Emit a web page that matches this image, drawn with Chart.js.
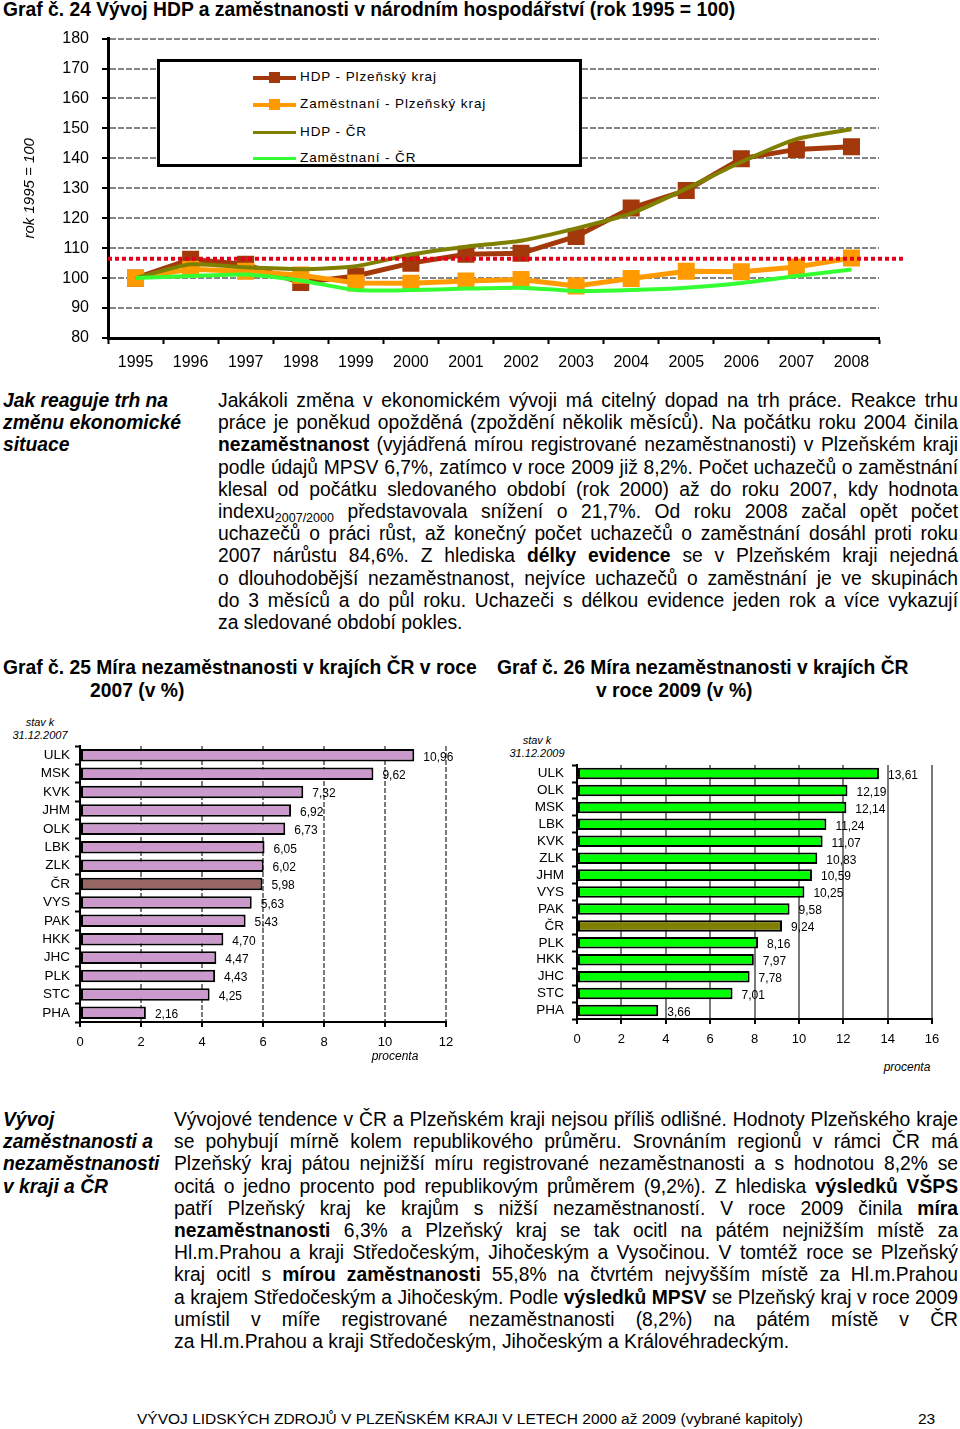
<!DOCTYPE html>
<html lang="cs">
<head>
<meta charset="utf-8">
<title>Vývoj HDP a zaměstnanosti</title>
<script src="https://cdn.jsdelivr.net/npm/chart.js@4.4.1/dist/chart.umd.min.js"></script>
<style>
body { margin:0; width:960px; height:1429px; position:relative; background:#fff; color:#000;
  font-family:'Liberation Sans', Arial, sans-serif; overflow:hidden; }
.abs { position:absolute; white-space:nowrap; }
.ttl { font-weight:bold; font-size:19.3px; }
.side { font-weight:bold; font-style:italic; font-size:19.3px; line-height:22.2px; }
.body { font-size:19.3px; line-height:22.2px; }
.body div { text-align:justify; text-align-last:justify; white-space:nowrap; }
.body div.last { text-align-last:left; }
.body sub { font-size:12.5px; vertical-align:-4px; line-height:0; }
.note { font-style:italic; font-size:11px; text-align:center; line-height:13px; }
.legrow { position:absolute; left:0; height:20px; width:400px; }
.legrow .ln { position:absolute; left:93px; top:8px; width:43px; height:4px; }
.legrow .mk { position:absolute; left:109px; top:4px; width:11px; height:11px; }
.legrow .tx { position:absolute; left:140px; top:1px; font-size:13.5px; letter-spacing:0.9px; }
canvas { position:absolute; }
</style>
</head>
<body>

<div class="abs ttl" style="left:3px;top:-1px;">Graf č. 24 Vývoj HDP a zaměstnanosti v národním hospodářství (rok 1995 = 100)</div>
<canvas id="lineChart" width="960" height="364" style="left:0;top:16px;"></canvas>
<div id="legend" class="abs" style="left:157px;top:59px;width:419px;height:102px;border:3px solid #000;background:#fff;"></div>

<div class="abs side" style="left:3px;top:390px;">Jak reaguje trh na<br>změnu ekonomické<br>situace</div>
<div class="abs body" style="left:218px;top:390px;width:740px;">
<div>Jakákoli změna v ekonomickém vývoji má citelný dopad na trh práce. Reakce trhu</div>
<div>práce je poněkud opožděná (zpoždění několik měsíců). Na počátku roku 2004 činila</div>
<div><b>nezaměstnanost</b> (vyjádřená mírou registrované nezaměstnanosti) v Plzeňském kraji</div>
<div>podle údajů MPSV 6,7%, zatímco v roce 2009 již 8,2%. Počet uchazečů o zaměstnání</div>
<div>klesal od počátku sledovaného období (rok 2000) až do roku 2007, kdy hodnota</div>
<div>indexu<sub>2007/2000</sub> představovala snížení o 21,7%. Od roku 2008 začal opět počet</div>
<div>uchazečů o práci růst, až konečný počet uchazečů o zaměstnání dosáhl proti roku</div>
<div>2007 nárůstu 84,6%. Z hlediska <b>délky evidence</b> se v Plzeňském kraji nejedná</div>
<div>o dlouhodobější nezaměstnanost, nejvíce uchazečů o zaměstnání je ve skupinách</div>
<div>do 3 měsíců a do půl roku. Uchazeči s délkou evidence jeden rok a více vykazují</div>
<div class="last">za sledované období pokles.</div>
</div>

<div class="abs ttl" style="left:3px;top:657px;">Graf č. 25 Míra nezaměstnanosti v krajích ČR v roce</div>
<div class="abs ttl" style="left:90px;top:680px;">2007 (v %)</div>
<div class="abs ttl" style="left:497px;top:657px;">Graf č. 26 Míra nezaměstnanosti v krajích ČR</div>
<div class="abs ttl" style="left:596px;top:680px;">v roce 2009 (v %)</div>

<div class="abs note" style="left:10px;top:716px;width:60px;">stav k<br>31.12.2007</div>
<canvas id="bar2007" width="480" height="337" style="left:0;top:733px;"></canvas>
<div class="abs note" style="left:370px;top:1050px;width:50px;font-size:12px;">procenta</div>

<div class="abs note" style="left:506px;top:734px;width:62px;">stav k<br>31.12.2009</div>
<canvas id="bar2009" width="470" height="306" style="left:490px;top:749px;"></canvas>
<div class="abs note" style="left:880px;top:1061px;width:54px;font-size:12px;">procenta</div>

<div class="abs side" style="left:3px;top:1109px;">Vývoj<br>zaměstnanosti a<br>nezaměstnanosti<br>v kraji a ČR</div>
<div class="abs body" style="left:174px;top:1109px;width:784px;">
<div>Vývojové tendence v ČR a Plzeňském kraji nejsou příliš odlišné. Hodnoty Plzeňského kraje</div>
<div>se pohybují mírně kolem republikového průměru. Srovnáním regionů v rámci ČR má</div>
<div>Plzeňský kraj pátou nejnižší míru registrované nezaměstnanosti a s hodnotou 8,2% se</div>
<div>ocitá o jedno procento pod republikovým průměrem (9,2%). Z hlediska <b>výsledků VŠPS</b></div>
<div>patří Plzeňský kraj ke krajům s nižší nezaměstnaností. V roce 2009 činila <b>míra</b></div>
<div><b>nezaměstnanosti</b> 6,3% a Plzeňský kraj se tak ocitl na pátém nejnižším místě za</div>
<div>Hl.m.Prahou a kraji Středočeským, Jihočeským a Vysočinou. V tomtéž roce se Plzeňský</div>
<div>kraj ocitl s <b>mírou zaměstnanosti</b> 55,8% na čtvrtém nejvyšším místě za Hl.m.Prahou</div>
<div>a krajem Středočeským a Jihočeským. Podle <b>výsledků MPSV</b> se Plzeňský kraj v roce 2009</div>
<div>umístil v míře registrované nezaměstnanosti (8,2%) na pátém místě v ČR</div>
<div class="last">za Hl.m.Prahou a kraji Středočeským, Jihočeským a Královéhradeckým.</div>
</div>

<div class="abs" style="left:137px;top:1410px;font-size:15.5px;">VÝVOJ LIDSKÝCH ZDROJŮ V PLZEŇSKÉM KRAJI V LETECH 2000 až 2009 (vybrané kapitoly)</div>
<div class="abs" style="left:918px;top:1410px;font-size:15.5px;">23</div>

<script>
// data
const years = ['1995','1996','1997','1998','1999','2000','2001','2002','2003','2004','2005','2006','2007','2008'];
const hdpPlzen = [100, 106.3, 104.6, 98.5, 100.7, 105, 108, 108.3, 113.9, 123.4, 129.3, 139.9, 143, 143.9];
const zamPlzen = [100, 103, 102.3, 101, 98.4, 98.3, 99, 99.5, 97.4, 99.9, 102.3, 102.1, 103.7, 106.7];
const hdpCR = [100, 104.6, 103.6, 103, 104, 107.9, 110.5, 112.5, 116.6, 121.6, 129.9, 138.8, 146.4, 149.7];
const zamCR = [100, 100.7, 101.2, 99.2, 96, 96, 96.5, 96.8, 95.7, 96, 96.8, 98.4, 100.7, 102.9];
const refLevel = 106.5;

const regions2007 = ['ULK','MSK','KVK','JHM','OLK','LBK','ZLK','ČR','VYS','PAK','HKK','JHC','PLK','STC','PHA'];
const rate2007 = [10.96, 9.62, 7.32, 6.92, 6.73, 6.05, 6.02, 5.98, 5.63, 5.43, 4.70, 4.47, 4.43, 4.25, 2.16];
const regions2009 = ['ULK','OLK','MSK','LBK','KVK','ZLK','JHM','VYS','PAK','ČR','PLK','HKK','JHC','STC','PHA'];
const rate2009 = [13.61, 12.19, 12.14, 11.24, 11.07, 10.83, 10.59, 10.25, 9.58, 9.24, 8.16, 7.97, 7.78, 7.01, 3.66];

Chart.defaults.font.family = "'Liberation Sans', Arial, sans-serif";
Chart.defaults.color = '#000';

// red dotted level line across the line chart
const refLine = {
    id: 'refLine',
    afterDatasetsDraw(chart) {
        const y = chart.scales.y.getPixelForValue(refLevel);
        const ctx = chart.ctx;
        ctx.save();
        ctx.strokeStyle = '#e3001b';
        ctx.lineWidth = 4;
        ctx.setLineDash([4, 3]);
        ctx.beginPath();
        ctx.moveTo(chart.chartArea.left, y);
        ctx.lineTo(chart.chartArea.right + 24, y);
        ctx.stroke();
        ctx.restore();
    }
};

// Excel draws later series on top: lower order = drawn last
const lineDatasets = [
    {label: 'HDP - Plzeňský kraj', data: hdpPlzen, borderColor: '#a3390b', backgroundColor: '#a3390b', borderWidth: 5,
        pointStyle: 'rect', pointRadius: 8.5, order: 4},
    {label: 'Zaměstnaní - Plzeňský kraj', data: zamPlzen, borderColor: '#ff9a00', backgroundColor: '#ff9a00', borderWidth: 5,
        pointStyle: 'rect', pointRadius: 8.5, order: 3},
    {label: 'HDP - ČR', data: hdpCR, borderColor: '#808000', borderWidth: 4, pointRadius: 0, tension: 0.2, order: 2},
    {label: 'Zaměstnaní - ČR', data: zamCR, borderColor: '#33ff33', borderWidth: 4, pointRadius: 0, tension: 0.2, order: 1}
];

new Chart(document.getElementById('lineChart'), {
    type: 'line',
    data: {labels: years, datasets: lineDatasets},
    options: {
        responsive: false,
        animation: false,
        devicePixelRatio: 1,
        layout: {padding: {top: 0, right: 81, left: 0, bottom: 0}},
        plugins: {legend: {display: false}, tooltip: {enabled: false}},
        scales: {
            x: {
                offset: true,
                grid: {offset: true, drawOnChartArea: false, tickLength: 6, tickColor: '#000', tickWidth: 2},
                border: {color: '#000', width: 3},
                ticks: {font: {size: 16}, padding: 9, maxRotation: 0},
                afterFit: s => { s.height = 42; }
            },
            y: {
                min: 80, max: 180,
                ticks: {stepSize: 10, font: {size: 16}, padding: 13},
                grid: {color: '#858585', lineWidth: 2, tickColor: '#000', tickWidth: 2, tickLength: 6},
                border: {color: '#000', width: 3, dash: [6, 2]},
                title: {display: true, text: 'rok 1995 = 100', font: {size: 15, style: 'italic'}, padding: {top: 21, bottom: 0}},
                afterFit: s => { s.width = 108; }
            }
        }
    },
    plugins: [refLine]
});

// legend box, built from the dataset settings
const legendEl = document.getElementById('legend');
const rowTops = [6, 33, 61, 87];
lineDatasets.forEach((ds, i) => {
    const row = document.createElement('div');
    row.className = 'legrow';
    row.style.top = rowTops[i] + 'px';
    let html = '<div class="ln" style="background:' + ds.borderColor + ';height:' + (ds.borderWidth - 1) + 'px"></div>';
    if (ds.pointStyle) html += '<div class="mk" style="background:' + ds.borderColor + '"></div>';
    html += '<div class="tx">' + ds.label + '</div>';
    row.innerHTML = html;
    legendEl.appendChild(row);
});

// value labels at bar ends
const barLabels = {
    id: 'barLabels',
    afterDatasetsDraw(chart, args, opts) {
        const ctx = chart.ctx;
        const meta = chart.getDatasetMeta(0);
        const vals = chart.data.datasets[0].data;
        ctx.save();
        ctx.font = opts.size + "px 'Liberation Sans', Arial, sans-serif";
        ctx.fillStyle = '#000';
        ctx.textBaseline = 'middle';
        ctx.textAlign = 'left';
        meta.data.forEach((bar, i) => {
            ctx.fillText(vals[i].toFixed(2).replace('.', ','), bar.x + opts.dx, bar.y + opts.dy);
        });
        ctx.restore();
    }
};

function barChart(id, labels, values, fill, crFill, maxV, gridDash, axisH, padRight, yWidth, labelPad) {
    return new Chart(document.getElementById(id), {
        type: 'bar',
        data: {
            labels: labels,
            datasets: [{
                data: values,
                backgroundColor: labels.map(l => l === 'ČR' ? crFill : fill),
                borderColor: '#000',
                borderWidth: 2,
                borderSkipped: false,
                barPercentage: 0.68,
                categoryPercentage: 1
            }]
        },
        options: {
            indexAxis: 'y',
            responsive: false,
            animation: false,
            devicePixelRatio: 1,
            layout: {padding: {top: 0, right: padRight, left: 0, bottom: 0}},
            plugins: {legend: {display: false}, tooltip: {enabled: false}, barLabels: {size: 12, dx: 9, dy: 2}},
            scales: {
                x: {
                    min: 0, max: maxV,
                    ticks: {stepSize: 2, font: {size: 13}, padding: 8},
                    grid: {color: '#7a7a7a', lineWidth: 2, tickColor: '#000', tickLength: 5, tickWidth: 2},
                    border: {color: '#000', width: 2, dash: gridDash},
                    afterFit: s => { s.height = axisH; }
                },
                y: {
                    grid: {offset: true, drawOnChartArea: false, tickColor: '#000', tickLength: 5, tickWidth: 2},
                    border: {color: '#000', width: 2},
                    ticks: {font: {size: 13.5}, padding: labelPad, autoSkip: false},
                    afterFit: s => { s.width = yWidth; }
                }
            }
        },
        plugins: [barLabels]
    });
}

barChart('bar2007', regions2007, rate2007, '#cc99cc', '#996666', 12, [5, 2], 48, 34, 80, 5);
barChart('bar2009', regions2009, rate2009, '#00ff00', '#808000', 16, [], 36, 28, 87, 8);
</script>
</body>
</html>
